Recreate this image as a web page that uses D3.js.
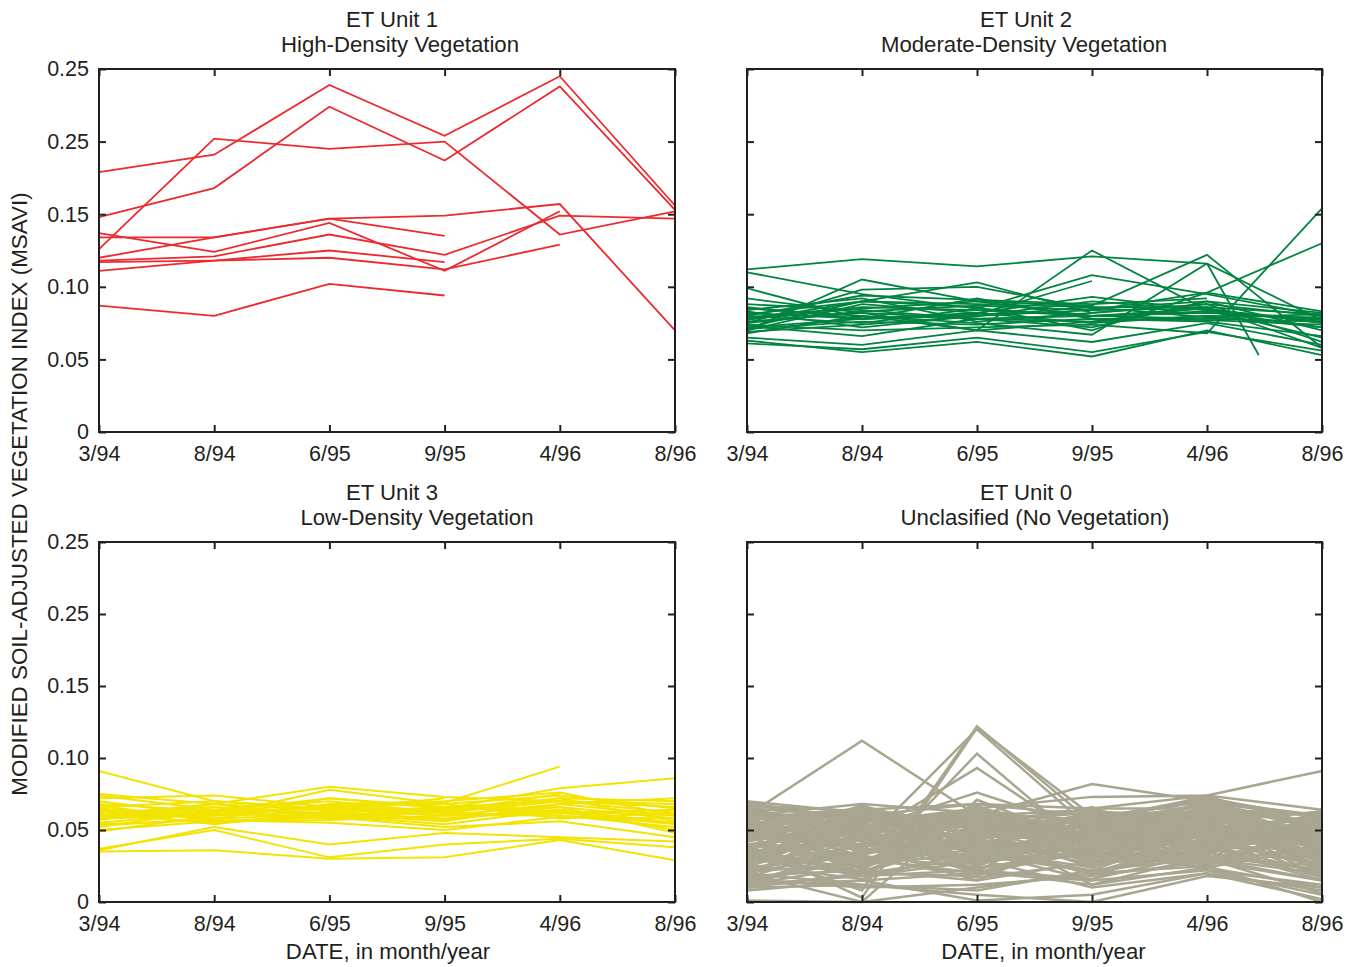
<!DOCTYPE html>
<html>
<head>
<meta charset="utf-8">
<script src="https://cdn.jsdelivr.net/npm/d3@7/dist/d3.min.js"></script>
<style>
	body { margin: 0; background: #fff; }
	text { font-family: "Liberation Sans", Arial, Helvetica, sans-serif; fill: #231f20; }
</style>
</head>
<body>
<svg id="chart" width="1359" height="967"></svg>
<script>
// sample dates (evenly spaced on the axis)
var dates = ["3/94", "8/94", "6/95", "9/95", "4/96", "8/96"];
var yTickValues = [0, 0.05, 0.10, 0.15, 0.20, 0.25];
var yTickLabels = ["0", "0.05", "0.10", "0.15", "0.25", "0.25"];

// ET Unit 1 - high-density vegetation (one row per site, null = no reading)
var unit1 = [
	[0.179, 0.191, 0.239, 0.204, 0.245, 0.156],
	[0.148, 0.168, 0.224, 0.187, 0.238, 0.153],
	[0.126, 0.202, 0.195, 0.200, 0.136, 0.152],
	[0.134, 0.134, 0.147, 0.149, 0.157, 0.070],
	[0.120, 0.134, 0.147, 0.135, null, null],
	[0.137, 0.124, 0.144, 0.111, 0.152, null],
	[0.118, 0.121, 0.136, 0.122, 0.149, 0.147],
	[0.111, 0.118, 0.125, 0.117, null, null],
	[0.117, 0.118, 0.120, 0.112, 0.129, null],
	[0.087, 0.080, 0.102, 0.094, null, null]
];

// ET Unit 2 - moderate-density vegetation
var unit2 = [
	[0.112, 0.119, 0.114, 0.121, 0.116, 0.077],
	[0.110, 0.095, 0.085, 0.080, 0.078, 0.076],
	[0.099, 0.078, 0.082, 0.075, 0.080, 0.072],
	[0.070, 0.105, 0.090, 0.080, 0.085, 0.075],
	[0.075, 0.098, 0.100, 0.085, 0.090, 0.082],
	[0.072, 0.090, 0.103, 0.082, 0.088, 0.080],
	[0.068, 0.080, 0.070, 0.125, 0.084, 0.077],
	[0.078, 0.085, 0.090, 0.087, 0.122, 0.058],
	[0.085, 0.080, 0.075, 0.067, 0.116, null],
	[0.080, 0.075, 0.085, 0.108, 0.095, 0.080],
	[0.074, 0.070, 0.072, 0.074, 0.068, 0.154],
	[0.082, 0.078, 0.080, 0.084, 0.096, 0.130],
	[0.061, 0.057, 0.065, 0.055, 0.069, 0.056],
	[0.063, 0.055, 0.062, 0.052, 0.070, 0.053],
	[0.065, 0.060, 0.070, 0.062, 0.075, 0.060],
	[0.076, 0.082, 0.078, 0.076, 0.080, 0.079],
	[0.079, 0.086, 0.084, 0.080, 0.082, 0.078],
	[0.081, 0.090, 0.088, 0.086, 0.086, 0.081],
	[0.071, 0.076, 0.074, 0.078, 0.077, 0.074],
	[0.083, 0.072, 0.080, 0.090, 0.084, 0.076],
	[0.088, 0.084, 0.078, 0.072, 0.090, 0.070],
	[0.070, 0.088, 0.082, 0.093, 0.084, 0.065],
	[0.086, 0.078, 0.092, 0.078, 0.076, 0.066],
	[0.077, 0.090, 0.086, 0.070, 0.096, 0.083],
	[0.069, 0.074, 0.080, 0.086, 0.079, 0.081],
	[0.084, 0.092, 0.076, 0.082, 0.088, 0.062],
	[0.092, 0.082, 0.070, 0.076, 0.086, 0.058],
	[0.073, 0.066, 0.078, 0.080, 0.083, 0.072],
	[0.080, 0.094, 0.091, 0.088, 0.092, null],
	[0.075, 0.083, 0.087, 0.084, 0.085, null],
	[0.072, 0.078, 0.081, 0.104, null, null]
];
// one unit 2 site stops between 4/96 and 8/96 (index, value)
var unit2Stub = [[4, 0.116], [4.45, 0.053]];

// ET Unit 3 - low-density vegetation
var unit3 = [
	[0.091, 0.070, 0.065, 0.062, 0.060, 0.055],
	[0.060, 0.062, 0.066, 0.069, 0.094, null],
	[0.065, 0.060, 0.072, 0.065, 0.079, 0.086],
	[0.035, 0.036, 0.030, 0.031, 0.043, 0.029],
	[0.037, 0.050, 0.031, 0.040, 0.044, 0.038],
	[0.036, 0.052, 0.040, 0.048, 0.045, 0.042],
	[0.075, 0.068, 0.080, 0.073, 0.070, 0.062],
	[0.072, 0.074, 0.066, 0.064, 0.072, 0.070],
	[0.070, 0.060, 0.078, 0.068, 0.074, 0.065],
	[0.068, 0.063, 0.072, 0.066, 0.070, 0.066],
	[0.066, 0.070, 0.064, 0.060, 0.068, 0.072],
	[0.064, 0.058, 0.068, 0.070, 0.076, 0.060],
	[0.062, 0.066, 0.060, 0.064, 0.066, 0.058],
	[0.060, 0.064, 0.070, 0.062, 0.070, 0.068],
	[0.058, 0.060, 0.062, 0.058, 0.064, 0.055],
	[0.057, 0.068, 0.058, 0.066, 0.062, 0.064],
	[0.055, 0.062, 0.066, 0.060, 0.060, 0.052],
	[0.053, 0.058, 0.061, 0.056, 0.068, 0.060],
	[0.052, 0.064, 0.064, 0.062, 0.072, 0.056],
	[0.050, 0.056, 0.060, 0.054, 0.064, 0.050],
	[0.049, 0.060, 0.067, 0.068, 0.058, 0.062],
	[0.063, 0.054, 0.063, 0.057, 0.066, 0.048],
	[0.067, 0.056, 0.057, 0.060, 0.062, 0.054],
	[0.074, 0.064, 0.062, 0.066, 0.063, 0.060],
	[0.061, 0.055, 0.059, 0.052, 0.056, 0.045],
	[0.054, 0.057, 0.055, 0.050, 0.059, 0.058],
	[0.060, 0.068, 0.064, 0.072, null, null],
	[0.059, 0.062, 0.058, 0.063, 0.075, null]
];

// ET Unit 0 - unclassified (no vegetation)
var unit0 = [
	[0.060, 0.112, 0.060, 0.045, 0.055, 0.040],
	[0.040, 0.003, 0.121, 0.060, 0.050, 0.045],
	[0.035, 0.008, 0.122, 0.055, 0.058, 0.050],
	[0.045, 0.040, 0.120, 0.050, 0.062, 0.040],
	[0.030, 0.020, 0.103, 0.035, 0.050, 0.030],
	[0.055, 0.045, 0.093, 0.040, 0.060, 0.045],
	[0.060, 0.050, 0.076, 0.050, 0.065, 0.055],
	[0.020, 0.000, 0.071, 0.040, 0.045, 0.035],
	[0.045, 0.050, 0.060, 0.082, 0.070, 0.060],
	[0.050, 0.055, 0.065, 0.073, 0.074, 0.091],
	[0.065, 0.060, 0.068, 0.065, 0.074, 0.064],
	[0.001, 0.000, 0.010, 0.020, 0.025, 0.000],
	[0.012, 0.015, 0.001, 0.005, 0.020, 0.002],
	[0.010, 0.012, 0.005, 0.000, 0.018, 0.010],
	[0.062, 0.045, 0.030, 0.055, 0.040, 0.020],
	[0.020, 0.035, 0.050, 0.030, 0.060, 0.045],
	[0.045, 0.060, 0.040, 0.020, 0.035, 0.055],
	[0.035, 0.020, 0.045, 0.060, 0.050, 0.030],
	[0.068, 0.055, 0.060, 0.040, 0.070, 0.050],
	[0.015, 0.030, 0.020, 0.045, 0.030, 0.015],
	[0.050, 0.040, 0.055, 0.035, 0.065, 0.060],
	[0.040, 0.050, 0.025, 0.050, 0.045, 0.025],
	[0.025, 0.045, 0.035, 0.015, 0.055, 0.040],
	[0.058, 0.065, 0.050, 0.060, 0.040, 0.035],
	[0.030, 0.025, 0.060, 0.045, 0.025, 0.050],
	[0.052, 0.035, 0.042, 0.030, 0.058, 0.062],
	[0.018, 0.022, 0.015, 0.028, 0.040, 0.030],
	[0.065, 0.050, 0.045, 0.055, 0.068, 0.045],
	[0.038, 0.060, 0.055, 0.040, 0.030, 0.020],
	[0.048, 0.030, 0.020, 0.035, 0.050, 0.058],
	[0.022, 0.040, 0.048, 0.058, 0.062, 0.035],
	[0.060, 0.068, 0.062, 0.050, 0.045, 0.040],
	[0.032, 0.018, 0.028, 0.042, 0.035, 0.060],
	[0.055, 0.045, 0.065, 0.025, 0.055, 0.025],
	[0.042, 0.055, 0.035, 0.062, 0.048, 0.038],
	[0.028, 0.050, 0.058, 0.038, 0.028, 0.048],
	[0.070, 0.062, 0.052, 0.045, 0.060, 0.030],
	[0.012, 0.025, 0.040, 0.020, 0.045, 0.055],
	[0.046, 0.038, 0.015, 0.048, 0.038, 0.015],
	[0.036, 0.058, 0.044, 0.026, 0.066, 0.052],
	[0.064, 0.042, 0.056, 0.064, 0.052, 0.045],
	[0.024, 0.032, 0.024, 0.034, 0.024, 0.038],
	[0.054, 0.064, 0.038, 0.056, 0.072, 0.058],
	[0.016, 0.028, 0.052, 0.012, 0.032, 0.022],
	[0.044, 0.048, 0.066, 0.046, 0.042, 0.062],
	[0.058, 0.036, 0.032, 0.052, 0.064, 0.028],
	[0.034, 0.052, 0.054, 0.032, 0.054, 0.042],
	[0.062, 0.058, 0.048, 0.066, 0.036, 0.054],
	[0.026, 0.016, 0.036, 0.024, 0.048, 0.018],
	[0.048, 0.066, 0.026, 0.058, 0.070, 0.035],
	[0.040, 0.028, 0.062, 0.040, 0.030, 0.063],
	[0.066, 0.046, 0.040, 0.030, 0.058, 0.048],
	[0.020, 0.044, 0.030, 0.050, 0.022, 0.012],
	[0.056, 0.052, 0.064, 0.036, 0.046, 0.056],
	[0.030, 0.062, 0.046, 0.062, 0.062, 0.032],
	[0.052, 0.020, 0.018, 0.044, 0.040, 0.044],
	[0.038, 0.040, 0.058, 0.054, 0.068, 0.026],
	[0.060, 0.054, 0.034, 0.022, 0.050, 0.060],
	[0.014, 0.036, 0.042, 0.036, 0.026, 0.040],
	[0.046, 0.064, 0.068, 0.060, 0.056, 0.050],
	[0.032, 0.046, 0.022, 0.016, 0.034, 0.022],
	[0.068, 0.034, 0.050, 0.048, 0.066, 0.042],
	[0.024, 0.056, 0.060, 0.064, 0.038, 0.058],
	[0.050, 0.026, 0.046, 0.028, 0.052, 0.034],
	[0.042, 0.062, 0.032, 0.042, 0.060, 0.016],
	[0.028, 0.038, 0.056, 0.062, 0.044, 0.062],
	[0.064, 0.048, 0.028, 0.034, 0.064, 0.036],
	[0.018, 0.054, 0.036, 0.046, 0.036, 0.054],
	[0.054, 0.032, 0.064, 0.054, 0.028, 0.046],
	[0.036, 0.066, 0.050, 0.024, 0.058, 0.024],
	[0.058, 0.024, 0.054, 0.058, 0.072, 0.038],
	[0.044, 0.044, 0.020, 0.038, 0.034, 0.058],
	[0.026, 0.060, 0.040, 0.056, 0.050, 0.028],
	[0.048, 0.058, 0.062, 0.026, 0.040, 0.052],
	[0.062, 0.030, 0.036, 0.050, 0.062, 0.020],
	[0.010, 0.020, 0.030, 0.010, 0.020, 0.008],
	[0.016, 0.010, 0.012, 0.018, 0.028, 0.015],
	[0.008, 0.015, 0.020, 0.015, 0.022, 0.005],
	[0.040, 0.033, 0.047, 0.041, 0.053, 0.033],
	[0.057, 0.061, 0.051, 0.047, 0.061, 0.049],
	[0.021, 0.027, 0.033, 0.021, 0.037, 0.027],
	[0.049, 0.055, 0.027, 0.055, 0.045, 0.061],
	[0.033, 0.043, 0.061, 0.033, 0.067, 0.019],
	[0.063, 0.039, 0.043, 0.059, 0.043, 0.053],
	[0.027, 0.059, 0.035, 0.045, 0.059, 0.043],
	[0.045, 0.023, 0.057, 0.031, 0.033, 0.057],
	[0.053, 0.047, 0.039, 0.063, 0.057, 0.031],
	[0.017, 0.041, 0.027, 0.039, 0.041, 0.047],
	[0.067, 0.063, 0.055, 0.043, 0.071, 0.039],
	[0.037, 0.021, 0.049, 0.057, 0.047, 0.023],
	[0.059, 0.051, 0.023, 0.037, 0.055, 0.063],
	[0.023, 0.035, 0.063, 0.029, 0.029, 0.051],
	[0.043, 0.067, 0.045, 0.053, 0.063, 0.045],
	[0.031, 0.029, 0.031, 0.049, 0.039, 0.017],
	[0.065, 0.043, 0.059, 0.027, 0.069, 0.059],
	[0.019, 0.057, 0.037, 0.061, 0.051, 0.033],
	[0.051, 0.037, 0.067, 0.033, 0.035, 0.049],
	[0.039, 0.049, 0.021, 0.065, 0.065, 0.029],
	[0.055, 0.027, 0.053, 0.041, 0.049, 0.055],
	[0.029, 0.065, 0.041, 0.019, 0.043, 0.041],
	[0.047, 0.053, 0.029, 0.051, 0.061, 0.061],
	[0.013, 0.031, 0.017, 0.027, 0.031, 0.025],
	[0.069, 0.057, 0.061, 0.057, 0.073, 0.053],
	[0.012, 0.018, 0.022, 0.012, 0.024, 0.010],
	[0.020, 0.012, 0.008, 0.022, 0.030, 0.006]
];

var panels = [
	{title: "ET Unit 1", sub: "High-Density Vegetation", rows: unit1, color: "#ec2a2e", lw: 1.8,
		left: 99, top: 69, w: 576, h: 363, yLabels: true, xTitle: false, t1x: 392, t2x: 400},
	{title: "ET Unit 2", sub: "Moderate-Density Vegetation", rows: unit2, color: "#00843f", lw: 1.8,
		left: 747, top: 69, w: 575, h: 363, yLabels: false, xTitle: false, t1x: 1026, t2x: 1024},
	{title: "ET Unit 3", sub: "Low-Density Vegetation", rows: unit3, color: "#f2e300", lw: 2,
		left: 99, top: 542, w: 576, h: 360, yLabels: true, xTitle: true, t1x: 392, t2x: 417},
	{title: "ET Unit 0", sub: "Unclasified (No Vegetation)", rows: unit0, color: "#a8a690", lw: 2.5,
		left: 747, top: 542, w: 575, h: 360, yLabels: false, xTitle: true, t1x: 1026, t2x: 1035}
];

var svg = d3.select("#chart");
var tickFont = 21.5;
var titleFont = 22.2;

panels.forEach(function(p, pi) {
	var x = d3.scaleLinear().domain([0, dates.length - 1]).range([0, p.w]);
	var y = d3.scaleLinear().domain([0, 0.25]).range([p.h, 0]);

	var g = svg.append("g").attr("transform", "translate(" + p.left + "," + p.top + ")");

	var line = d3.line()
		.defined(function(d) { return d[1] != null; })
		.x(function(d) { return x(d[0]); })
		.y(function(d) { return y(d[1]); });

	var series = p.rows.map(function(r) {
		return r.map(function(v, i) { return [i, v]; });
	});
	if (pi == 1) series.push(unit2Stub);

	g.selectAll("path.site")
		.data(series)
		.enter()
		.append("path")
		.attr("class", "site")
		.attr("d", line)
		.attr("fill", "none")
		.attr("stroke", p.color)
		.attr("stroke-width", p.lw)
		.attr("stroke-linejoin", "miter");

	// axes, ticks pointing inwards
	var tick = 7;
	g.append("g").attr("transform", "translate(0," + p.h + ")")
		.call(d3.axisBottom(x).tickValues(d3.range(dates.length))
			.tickFormat(function(i) { return dates[i]; })
			.tickSizeInner(-tick).tickSizeOuter(0).tickPadding(14));
	g.append("g")
		.call(d3.axisTop(x).tickValues(d3.range(dates.length)).tickFormat("")
			.tickSizeInner(-tick).tickSizeOuter(0));
	g.append("g")
		.call(d3.axisLeft(y).tickValues(yTickValues)
			.tickFormat(function(d, i) { return p.yLabels ? yTickLabels[i] : ""; })
			.tickSizeInner(-tick).tickSizeOuter(0).tickPadding(10));
	g.append("g").attr("transform", "translate(" + p.w + ",0)")
		.call(d3.axisRight(y).tickValues(yTickValues).tickFormat("")
			.tickSizeInner(-tick).tickSizeOuter(0));

	g.selectAll(".domain").remove();
	g.selectAll(".tick line").attr("stroke", "#231f20").attr("stroke-width", 2);
	g.selectAll(".tick text").attr("font-size", tickFont).attr("font-family", null).attr("fill", "#231f20");

	g.append("rect")
		.attr("width", p.w)
		.attr("height", p.h)
		.attr("fill", "none")
		.attr("stroke", "#231f20")
		.attr("stroke-width", 2);

	// titles
	svg.append("text")
		.attr("x", p.t1x).attr("y", p.top - 42)
		.attr("text-anchor", "middle").attr("font-size", titleFont)
		.text(p.title);
	svg.append("text")
		.attr("x", p.t2x).attr("y", p.top - 17)
		.attr("text-anchor", "middle").attr("font-size", titleFont)
		.text(p.sub);

	if (p.xTitle) {
		svg.append("text")
			.attr("x", p.left + p.w / 2 + (pi == 2 ? 1 : 9)).attr("y", p.top + p.h + 57)
			.attr("text-anchor", "middle").attr("font-size", titleFont)
			.text("DATE, in month/year");
	}
});

svg.append("text")
	.attr("transform", "translate(27,494) rotate(-90)")
	.attr("text-anchor", "middle")
	.attr("font-size", 22.4)
	.text("MODIFIED SOIL-ADJUSTED VEGETATION INDEX (MSAVI)");
</script>
</body>
</html>
